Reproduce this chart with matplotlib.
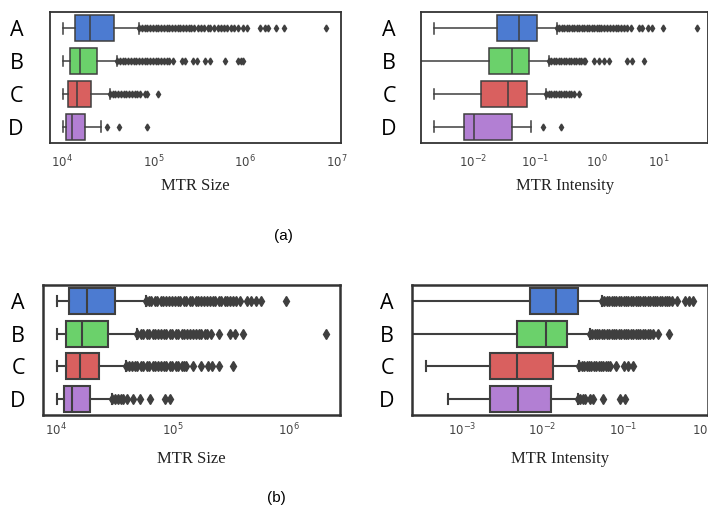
import matplotlib.pyplot as plt
import numpy as np

categories = ['A', 'B', 'C', 'D']
box_colors = ['#4c7bd1', '#6bd16b', '#d9605f', '#b27fd3']

# all values are log10 of the quantity

# (a) MTR size
a_size_lo = [4.01, 4.01, 4.01, 4.01]
a_size_q1 = [4.14, 4.085, 4.06, 4.04]
a_size_med = [4.30, 4.19, 4.16, 4.11]
a_size_q3 = [4.57, 4.38, 4.31, 4.25]
a_size_hi = [4.84, 4.60, 4.52, 4.42]
a_size_fliers = [
    [4.84, 4.87, 4.90, 4.93, 4.96, 4.99, 5.02, 5.05, 5.08, 5.11, 5.14, 5.17, 5.20, 5.23,
     5.26, 5.29, 5.32, 5.35, 5.38, 5.41, 5.44, 5.48, 5.52, 5.55, 5.59, 5.62, 5.66, 5.70,
     5.73, 5.77, 5.80, 5.84, 5.88, 5.92, 5.97, 6.02, 6.16, 6.22, 6.25, 6.34, 6.42, 6.88],
    [4.60, 4.63, 4.66, 4.69, 4.72, 4.75, 4.78, 4.81, 4.84, 4.87, 4.90, 4.93, 4.96, 4.99,
     5.02, 5.05, 5.08, 5.11, 5.14, 5.17, 5.21, 5.31, 5.34, 5.43, 5.47, 5.56, 5.61, 5.78,
     5.92, 5.95, 5.98],
    [4.52, 4.55, 4.58, 4.61, 4.64, 4.67, 4.70, 4.73, 4.76, 4.79, 4.82, 4.85, 4.90, 4.93, 5.05],
    [4.49, 4.62, 4.93],
]

# (a) MTR intensity
a_int_lo = [-2.64, -3.0, -2.64, -2.64]
a_int_q1 = [-1.62, -1.75, -1.88, -2.16]
a_int_med = [-1.26, -1.37, -1.45, -2.00]
a_int_q3 = [-0.97, -1.10, -1.14, -1.37]
a_int_hi = [-0.65, -0.78, -0.82, -1.07]
a_int_fliers = [
    [-0.65, -0.61, -0.57, -0.53, -0.49, -0.45, -0.41, -0.37, -0.33, -0.29, -0.25, -0.21,
     -0.17, -0.13, -0.09, -0.05, -0.01, 0.03, 0.07, 0.11, 0.16, 0.20, 0.25, 0.30, 0.34,
     0.39, 0.44, 0.49, 0.54, 0.67, 0.73, 0.83, 0.89, 1.07, 1.62],
    [-0.78, -0.74, -0.70, -0.66, -0.62, -0.58, -0.54, -0.50, -0.46, -0.42, -0.38, -0.34,
     -0.30, -0.26, -0.22, -0.19, -0.05, 0.03, 0.11, 0.19, 0.49, 0.57, 0.76],
    [-0.82, -0.78, -0.74, -0.70, -0.66, -0.62, -0.58, -0.54, -0.50, -0.46, -0.42, -0.37, -0.29],
    [-0.87, -0.59],
]

# (b) MTR size
b_size_lo = [4.01, 4.01, 4.01, 4.01]
b_size_q1 = [4.11, 4.09, 4.09, 4.07]
b_size_med = [4.27, 4.22, 4.21, 4.14]
b_size_q3 = [4.51, 4.45, 4.37, 4.29]
b_size_hi = [4.77, 4.70, 4.60, 4.48]
b_size_fliers = [
    [4.77, 4.80, 4.82, 4.85, 4.87, 4.90, 4.92, 4.95, 4.97, 5.00, 5.02, 5.05, 5.07, 5.10,
     5.12, 5.15, 5.17, 5.20, 5.22, 5.25, 5.27, 5.30, 5.32, 5.35, 5.37, 5.40, 5.42, 5.45,
     5.47, 5.50, 5.52, 5.55, 5.58, 5.64, 5.68, 5.72, 5.76, 5.98],
    [4.70, 4.73, 4.75, 4.78, 4.80, 4.83, 4.85, 4.88, 4.90, 4.93, 4.95, 4.98, 5.00, 5.03,
     5.05, 5.08, 5.10, 5.13, 5.15, 5.18, 5.20, 5.23, 5.25, 5.28, 5.30, 5.33, 5.40, 5.50,
     5.54, 5.61, 6.32],
    [4.60, 4.63, 4.65, 4.68, 4.70, 4.73, 4.75, 4.78, 4.80, 4.83, 4.85, 4.88, 4.90, 4.93,
     4.95, 4.98, 5.00, 5.03, 5.05, 5.08, 5.10, 5.12, 5.18, 5.25, 5.31, 5.34, 5.40, 5.52],
    [4.48, 4.51, 4.53, 4.56, 4.58, 4.61, 4.66, 4.72, 4.81, 4.94, 4.98],
]

# (b) MTR intensity
b_int_lo = [-3.8, -3.8, -3.45, -3.18]
b_int_q1 = [-2.15, -2.32, -2.65, -2.65]
b_int_med = [-1.83, -1.95, -2.32, -2.30]
b_int_q3 = [-1.56, -1.70, -1.87, -1.89]
b_int_hi = [-1.26, -1.41, -1.54, -1.56]
b_int_fliers = [
    [-1.26, -1.23, -1.20, -1.17, -1.14, -1.11, -1.08, -1.05, -1.02, -0.99, -0.96, -0.93,
     -0.90, -0.87, -0.84, -0.81, -0.78, -0.75, -0.72, -0.69, -0.66, -0.63, -0.60, -0.57,
     -0.54, -0.51, -0.48, -0.45, -0.42, -0.39, -0.33, -0.22, -0.17, -0.13],
    [-1.41, -1.38, -1.35, -1.32, -1.29, -1.26, -1.23, -1.20, -1.17, -1.14, -1.11, -1.08,
     -1.05, -1.02, -0.99, -0.96, -0.93, -0.90, -0.87, -0.84, -0.81, -0.78, -0.75, -0.72,
     -0.69, -0.66, -0.62, -0.56, -0.43],
    [-1.54, -1.51, -1.48, -1.45, -1.42, -1.39, -1.36, -1.33, -1.30, -1.27, -1.24, -1.21,
     -1.18, -1.16, -1.09, -0.99, -0.93, -0.87],
    [-1.56, -1.53, -1.50, -1.47, -1.41, -1.37, -1.24, -1.03, -0.97],
]


def make_stats(lo, q1, med, q3, hi, fliers):
    stats = []
    for i in range(len(categories)):
        stats.append({'label': categories[i],
                      'whislo': 10 ** lo[i], 'q1': 10 ** q1[i], 'med': 10 ** med[i],
                      'q3': 10 ** q3[i], 'whishi': 10 ** hi[i],
                      'fliers': 10 ** np.array(fliers[i])})
    return stats


def draw(ax, stats, xlim, xlabel, cat_size, cat_pad, ms, lw, spine_lw, tick_pad, label_y):
    edge = '#3f3f3f'
    parts = ax.bxp(stats, positions=range(len(categories)), widths=0.8, capwidths=0.32,
                   orientation='horizontal', patch_artist=True,
                   boxprops=dict(edgecolor=edge, linewidth=lw),
                   medianprops=dict(color=edge, linewidth=lw),
                   whiskerprops=dict(color=edge, linewidth=lw),
                   capprops=dict(color=edge, linewidth=lw),
                   flierprops=dict(marker='d', markersize=ms, markerfacecolor=edge,
                                   markeredgecolor=edge, linestyle='none'))
    for box, c in zip(parts['boxes'], box_colors):
        box.set_facecolor(c)
    ax.set_xscale('log')
    ax.set_xlim(10 ** xlim[0], 10 ** xlim[1])
    ax.set_ylim(3.5, -0.5)
    ax.xaxis.set_minor_locator(plt.NullLocator())
    ax.set_yticks(range(len(categories)))
    ax.set_yticklabels(categories, fontsize=cat_size, family='Open Sans')
    ax.tick_params(axis='both', which='both', length=0)
    ax.tick_params(axis='y', pad=cat_pad)
    ax.tick_params(axis='x', pad=tick_pad, labelsize=8.5, labelcolor='#444444')
    for s in ax.spines.values():
        s.set_linewidth(spine_lw)
        s.set_color('#333333')
    ax.set_xlabel(xlabel, family='Liberation Serif', fontsize=12, color='#222222')
    ax.xaxis.set_label_coords(0.5, label_y)


fig = plt.figure(figsize=(7.08, 5.13), dpi=100)

ax1 = fig.add_axes([0.0706, 0.7212, 0.411, 0.2554])
draw(ax1, make_stats(a_size_lo, a_size_q1, a_size_med, a_size_q3, a_size_hi, a_size_fliers),
     (3.866, 7.046), 'MTR Size', 15.5, 19, 3.5, 1.1, 1.3, 8, -0.27)

ax2 = fig.add_axes([0.5946, 0.7212, 0.4060, 0.2554])
draw(ax2, make_stats(a_int_lo, a_int_q1, a_int_med, a_int_q3, a_int_hi, a_int_fliers),
     (-2.85, 1.80), 'MTR Intensity', 15.5, 18, 3.5, 1.1, 1.3, 8, -0.27)

ax3 = fig.add_axes([0.0607, 0.191, 0.4195, 0.2534])
draw(ax3, make_stats(b_size_lo, b_size_q1, b_size_med, b_size_q3, b_size_hi, b_size_fliers),
     (3.888, 6.442), 'MTR Size', 15.5, 13, 5, 1.5, 1.8, 5, -0.28)

ax4 = fig.add_axes([0.5819, 0.191, 0.4185, 0.2534])
draw(ax4, make_stats(b_int_lo, b_int_q1, b_int_med, b_int_q3, b_int_hi, b_int_fliers),
     (-3.623, 0.064), 'MTR Intensity', 15.5, 13, 5, 1.5, 1.8, 5, -0.28)

fig.text(0.3997, 0.540, '(a)', ha='center', va='center', fontsize=11, family='Liberation Sans')
fig.text(0.391, 0.030, '(b)', ha='center', va='center', fontsize=11, family='Liberation Sans')

fig.savefig('out.png', dpi=100)
